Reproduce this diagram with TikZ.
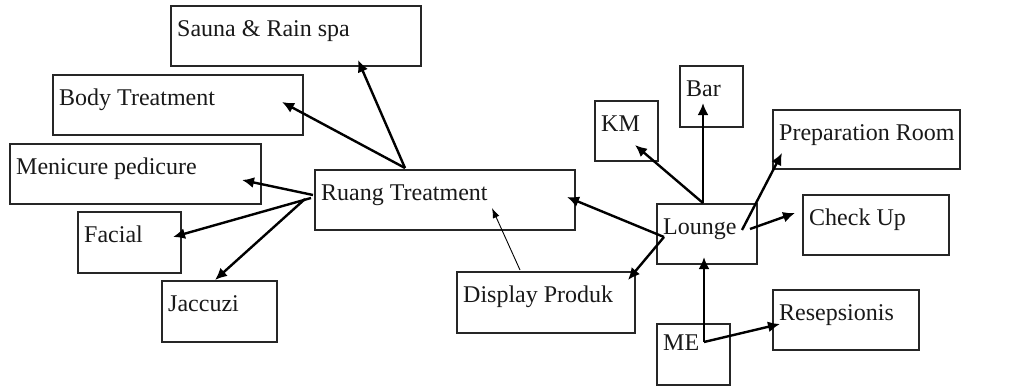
\documentclass[tikz,border=0pt]{standalone}
\usepackage{fontspec}
\setmainfont{Liberation Serif}
\usetikzlibrary{arrows.meta}
\tikzset{
  box/.style={draw=black!85, line width=1.1pt, inner sep=0pt, rectangle},
  lbl/.style={inner sep=0pt, font=\fontsize{24}{29}\selectfont, text=black!90},
  arr/.style={line width=2.4pt, -{Latex[length=12pt,width=11pt]}},
  thinarr/.style={line width=0.9pt, -{Latex[length=10pt,width=7pt]}}
}
\newcommand\bx[6]{%
  \node[box, minimum width={#4-#2}, minimum height={#5-#3}] (#1) at ({(#2+#4)/2},{(#3+#5)/2}) {};
  \node[lbl, anchor=base west] (#1t) at ({#2+6},{#3+30}) {#6};}
\begin{document}
\begin{tikzpicture}[x=1pt,y=-1pt]
\useasboundingbox (0,0) rectangle (1013,391);
\fill[white] (0,0) rectangle (1013,391);
\bx{sauna}{171}{6}{421}{66}{Sauna \& Rain spa}
\bx{body}{53}{75}{303}{135}{Body Treatment}
\bx{meni}{10}{144}{261}{204}{Menicure pedicure}
\bx{ruang}{315}{170}{575}{230}{Ruang Treatment}
\bx{facial}{78}{212}{181}{273}{Facial}
\bx{jacc}{162}{281}{277}{342}{Jaccuzi}
\bx{km}{595}{101}{658}{161}{KM}
\bx{bar}{680}{66}{743}{127}{Bar}
\bx{prep}{773}{110}{960}{169}{Preparation Room}
\bx{lounge}{657}{204}{757}{264}{Lounge}
\bx{check}{803}{195}{949}{255}{Check Up}
\bx{disp}{457}{272}{635}{333}{Display Produk}
\node[box, minimum width=73, minimum height=61] (me) at (693.5,354.5) {};
\node[lbl, anchor=base west] (met) at (663,350) {ME};
\bx{resep}{773}{290}{919}{350}{Resepsionis}
% hubs
\coordinate (rtop) at (405,168);
\coordinate (rleft) at (313,195);
\coordinate (rleft2) at (311,198);
\coordinate (rleft3) at (305,199);
\coordinate (lleft) at (664,237);
\coordinate (ltop) at (703,203);
\coordinate (lright1) at (750,229);
\coordinate (lright2) at (742,230);
\coordinate (mhub) at (704,342);
% tips
\coordinate (saunaT) at (358,60);
\coordinate (bodyT) at (282,102);
\coordinate (meniT) at (242,180);
\coordinate (facialT) at (173,237);
\coordinate (jaccT) at (215,280);
\coordinate (ruangT) at (567,197);
\coordinate (dispT) at (628,280);
\coordinate (barT) at (703,103);
\coordinate (kmT) at (635,145);
\coordinate (prepT) at (782,153);
\coordinate (checkT) at (795,213);
\coordinate (loungeT) at (704,257);
\coordinate (resepT) at (780,324);
\coordinate (dispS) at (520,270);
\coordinate (ruangT2) at (492,208);
\draw[arr] (rtop) -- (saunaT);
\draw[arr] (rtop) -- (bodyT);
\draw[arr] (rleft) -- (meniT);
\draw[arr] (rleft2) -- (facialT);
\draw[arr] (rleft3) -- (jaccT);
\draw[arr] (lleft) -- (ruangT);
\draw[arr] (lleft) -- (dispT);
\draw[arr] (ltop) -- (barT);
\draw[arr] (ltop) -- (kmT);
\draw[arr] (lright2) -- (prepT);
\draw[arr] (lright1) -- (checkT);
\draw[arr] (mhub) -- (loungeT);
\draw[arr] (mhub) -- (resepT);
\draw[thinarr] (dispS) -- (ruangT2);
\end{tikzpicture}
\end{document}
